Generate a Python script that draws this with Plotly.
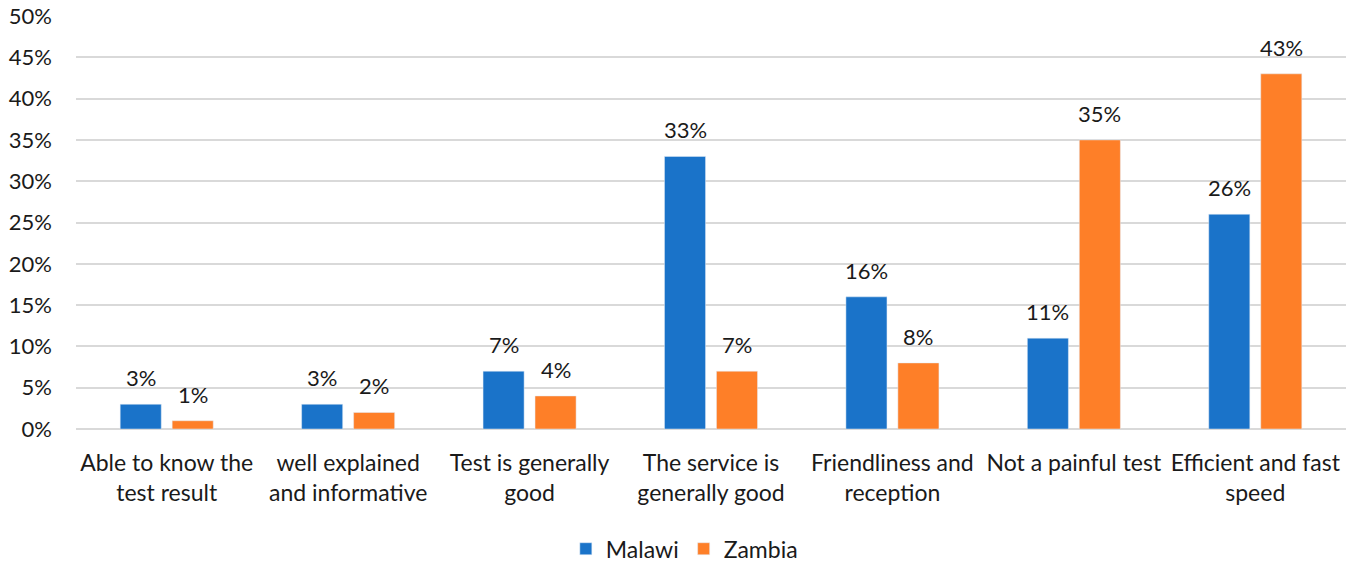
import plotly.graph_objects as go

categories = [
    "Able to know the<br>test result",
    "well explained<br>and informative",
    "Test is generally<br>good",
    "The service is<br>generally good",
    "Friendliness and<br>reception",
    "Not a painful test",
    "Efficient and fast<br>speed",
]
malawi = [3, 3, 7, 33, 16, 11, 26]
zambia = [1, 2, 4, 7, 8, 35, 43]

FONT = "Lato"
TXT = "#1a1a1a"

fig = go.Figure()
fig.add_trace(go.Bar(name="Malawi", x=categories, y=malawi, marker_color="#1a73c9"))
fig.add_trace(go.Bar(name="Zambia", x=categories, y=zambia, marker_color="#fe7f28"))

# value labels above each bar, lifted a little off the bar top
for vals, shift in ((malawi, -26), (zambia, 26)):
    for cat, v in zip(categories, vals):
        fig.add_annotation(x=cat, y=v, text=f"{v}%", showarrow=False,
                           xshift=shift, yshift=11, yanchor="bottom",
                           font=dict(size=22, color=TXT))

fig.update_layout(
    width=1354, height=563,
    margin=dict(l=76, r=8, t=16, b=134, autoexpand=False),
    barmode="group", bargap=0.427, bargroupgap=0.21,
    plot_bgcolor="white", paper_bgcolor="white",
    font=dict(family=FONT, size=22, color=TXT),
    legend=dict(orientation="h", x=0.479, xanchor="center", y=-0.29, yanchor="middle",
                font=dict(size=23), traceorder="normal"),
    xaxis=dict(showgrid=False, tickfont=dict(size=23), ticks="", ticklabelstandoff=18),
    yaxis=dict(range=[0, 50], dtick=5, ticksuffix="%", showgrid=True,
               gridcolor="#d9d9d9", gridwidth=1.5, zeroline=True,
               zerolinecolor="#d9d9d9", zerolinewidth=2,
               tickfont=dict(size=22), ticklabelstandoff=23),
)

fig.write_html("out.html")
